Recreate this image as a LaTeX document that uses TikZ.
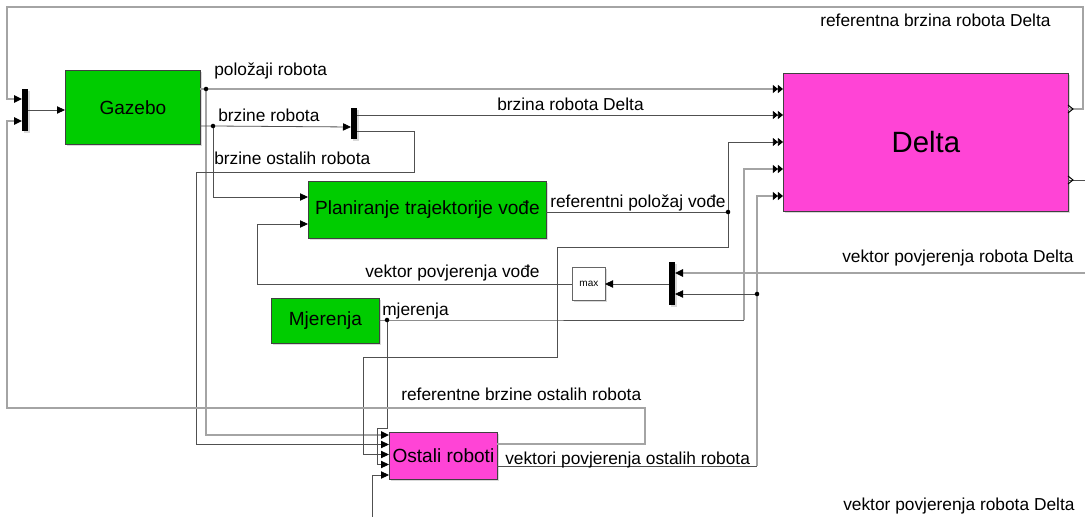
\documentclass[tikz,border=0pt]{standalone}
\usepackage{fontspec}
\setmainfont{Liberation Sans}
\usetikzlibrary{arrows.meta,shadows}
\definecolor{simgreen}{HTML}{00CC00}
\definecolor{simpink}{HTML}{FF44D6}
\definecolor{wirec}{HTML}{505050}
\definecolor{busc}{HTML}{A4A4A4}
\newcommand{\blkfont}{\fontsize{14.3}{17}\selectfont}
\begin{document}
\begin{tikzpicture}[x=0.75pt,y=-0.75pt,
  font=\fontsize{13}{15}\selectfont,
  bsize/.style 2 args={minimum width=#1*0.75pt, minimum height=#2*0.75pt},
  wire/.style={draw=wirec, line width=0.6pt},
  bus/.style={draw=busc, line width=1.1pt},
  arr/.style={-{Triangle[length=6pt,width=5.5pt,color=black]}},
  darr/.style={-{Triangle[length=3.8pt,width=6pt,color=black]Triangle[length=3.8pt,width=6pt,color=black]}},
  blk/.style={draw=black!75, line width=0.6pt, inner sep=0pt, anchor=north west,
    drop shadow={shadow xshift=1.2pt,shadow yshift=-1.2pt,opacity=0.3}},
  bar/.style={fill=black, draw=none, inner sep=0pt, anchor=north west,
    drop shadow={shadow xshift=1pt,shadow yshift=-1pt,opacity=0.3}},
  lbl/.style={anchor=base west, inner sep=0pt},
  jdot/.style={fill=black, circle, inner sep=0pt, minimum size=3.4pt}
]
\useasboundingbox (0,0) rectangle (1085,517);

% blocks
\node[blk, fill=simgreen, bsize={135}{74}] (gaz) at (65,70) {\blkfont Gazebo};
\node[blk, fill=simpink, bsize={285}{138}] (delta) at (783,73) {\fontsize{22}{26}\selectfont Delta};
\node[blk, fill=simgreen, bsize={238}{57}] (plan) at (308,181) {\blkfont Planiranje trajektorije vođe};
\node[blk, fill=simgreen, bsize={108}{45}] (mjer) at (271,298) {\blkfont Mjerenja};
\node[blk, fill=white, draw=black!60, bsize={33}{33}] (maxb) at (572,267) {\fontsize{7.5}{9}\selectfont max};
\node[blk, fill=simpink, bsize={108}{47}] (ost) at (389,432) {\blkfont Ostali roboti};
\node[bar, bsize={6}{42}] (muxl) at (22,89) {};
\node[bar, bsize={6}{31}] (demux) at (351,108) {};
\node[bar, bsize={6}{43}] (muxr) at (669,262) {};

% ports and junctions
\coordinate (mlIn1) at (22,99);
\coordinate (mlIn2) at (22,121);
\coordinate (mlOut) at (28,110);
\coordinate (gazIn) at (65,110);
\coordinate (gazO1) at (200,89);
\coordinate (gazO2) at (200,126);
\coordinate (jPos) at (206,89);
\coordinate (jVel) at (213,126);
\coordinate (dIn1) at (783,89);
\coordinate (dIn2) at (783,115);
\coordinate (dIn3) at (783,142);
\coordinate (dIn4) at (783,169);
\coordinate (dIn5) at (783,196);
\coordinate (dOut1) at (1068,109);
\coordinate (dOut2) at (1068,180);
\coordinate (dmIn) at (351,127);
\coordinate (dmO1) at (357,115);
\coordinate (dmO2) at (357,131);
\coordinate (pIn1) at (308,197);
\coordinate (pIn2) at (308,224);
\coordinate (pOut) at (546,212);
\coordinate (jRef) at (728,212);
\coordinate (mOut) at (379,320);
\coordinate (jMj) at (387,320);
\coordinate (maxIn) at (605,284);
\coordinate (maxOut) at (572,284);
\coordinate (mrIn1) at (675,273);
\coordinate (mrIn2) at (675,294);
\coordinate (mrOut) at (669,284);
\coordinate (jVek) at (757,294);
\coordinate (oIn1) at (389,435);
\coordinate (oIn2) at (389,444.5);
\coordinate (oIn3) at (389,454.5);
\coordinate (oIn4) at (389,464.5);
\coordinate (oIn5) at (389,475);
\coordinate (oOut1) at (497,444);
\coordinate (oOut2) at (497,466);
\coordinate (edgeR1) at (1085,180);
\coordinate (edgeR2) at (1085,273);
\coordinate (edgeB) at (372,517);

% connectors
\draw[bus,arr] (dOut1) -- (1083,109) -- (1083,7) -- (7,7) -- (7,99) -- (mlIn1);
\draw[wire,arr] (mlOut) -- (gazIn);
\draw[bus,darr] (gazO1) -- (jPos) -- (dIn1);
\draw[bus,arr] (jPos) -- (206,435) -- (oIn1);
\draw[wire,arr] (gazO2) -- (jVel) -- (dmIn);
\draw[wire,arr] (jVel) -- (213,197) -- (pIn1);
\draw[wire,darr] (dmO1) -- (dIn2);
\draw[wire,arr] (dmO2) -- (414,131) -- (414,172) -- (196,172) -- (196,444.5) -- (oIn2);
\draw[wire] (pOut) -- (jRef);
\draw[wire,darr] (jRef) -- (728,142) -- (dIn3);
\draw[wire,arr] (jRef) -- (728,247) -- (557,247) -- (557,357) -- (363,357) -- (363,454.5) -- (oIn3);
\draw[wire] (mOut) -- (jMj) -- (744,320);
\draw[bus,darr] (744,320) -- (744,169) -- (dIn4);
\draw[wire,arr] (jMj) -- (387,428) -- (377,428) -- (377,464.5) -- (oIn4);
\draw[wire] (oOut2) -- (757,466);
\draw[bus,darr] (757,466) -- (jVek) -- (757,196) -- (dIn5);
\draw[wire,arr] (jVek) -- (mrIn2);
\draw[bus,arr] (edgeR2) -- (mrIn1);
\draw[wire,arr] (mrOut) -- (maxIn);
\draw[wire,arr] (maxOut) -- (257,284) -- (257,224) -- (pIn2);
\draw[bus,arr] (oOut1) -- (645,444) -- (645,408) -- (7,408) -- (7,121) -- (mlIn2);
\draw[wire] (dOut2) -- (edgeR1);
\draw[wire,arr] (edgeB) -- (372,475) -- (oIn5);

% Delta output port marks
\draw[black, line width=0.7pt] (dOut1) ++(0,-4) -- ++(5,4) -- ++(-5,4);
\draw[black, line width=0.7pt] (dOut2) ++(0,-4) -- ++(5,4) -- ++(-5,4);

% junction dots
\node[jdot] (dPos) at (jPos) {};
\node[jdot] (dVel) at (jVel) {};
\node[jdot] (dRef) at (jRef) {};
\node[jdot] (dMj) at (jMj) {};
\node[jdot] (dVek) at (jVek) {};

% labels
\node[lbl] (l1) at (820,27) {referentna brzina robota Delta};
\node[lbl] (l2) at (214,76) {položaji robota};
\node[lbl] (l3) at (218,121) {brzine robota};
\node[lbl] (l4) at (497,110) {brzina robota Delta};
\node[lbl] (l5) at (214,164) {brzine ostalih robota};
\node[lbl] (l6) at (550,207) {referentni položaj vođe};
\node[lbl] (l7) at (365,277) {vektor povjerenja vođe};
\node[lbl] (l8) at (382,315) {mjerenja};
\node[lbl] (l9) at (842,262) {vektor povjerenja robota Delta};
\node[lbl] (l10) at (401,400) {referentne brzine ostalih robota};
\node[lbl] (l11) at (505,464) {vektori povjerenja ostalih robota};
\node[lbl] (l12) at (843,510) {vektor povjerenja robota Delta};
\end{tikzpicture}
\end{document}
